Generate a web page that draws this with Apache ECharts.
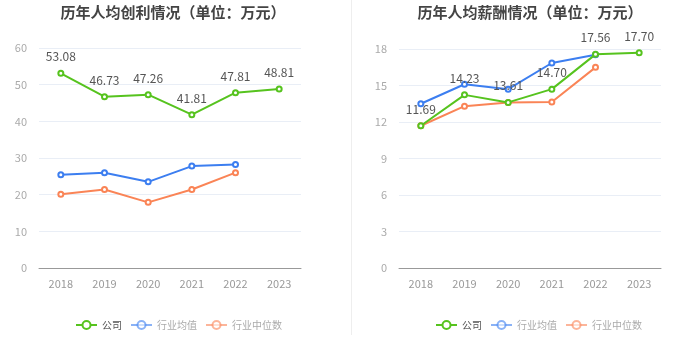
<!DOCTYPE html>
<html><head><meta charset="utf-8">
<script src="https://cdn.jsdelivr.net/npm/echarts@6/dist/echarts.min.js"></script>
<style>html,body{margin:0;padding:0;background:#fff}#c{width:700px;height:359px}</style>
</head><body><div id="c"></div>
<script>
const years = ['2018','2019','2020','2021','2022','2023'];
const seriesNames = ['公司','行业均值','行业中位数'];
const profitCompany = [53.08, 46.73, 47.26, 41.81, 47.81, 48.81];
const profitMean = [25.4, 26.0, 23.5, 27.8, 28.2, null];
const profitMedian = [20.1, 21.4, 17.9, 21.4, 26.0, null];
const salaryCompany = [11.69, 14.23, 13.61, 14.70, 17.56, 17.70];
const salaryMean = [13.5, 15.1, 14.7, 16.85, 17.53, null];
const salaryMedian = [11.69, 13.3, 13.6, 13.64, 16.49, null];
const titles = ['历年人均创利情况（单位：万元）','历年人均薪酬情况（单位：万元）'];

const colors = ['#56c31e','#3c7ef0','#fa8456'];
const font = '"Noto Sans CJK SC","Noto Sans",sans-serif';
const chart = echarts.init(document.getElementById('c'));

function mkSeries(name, data, xi, ci, label){
  return {
    name, type:'line', data, xAxisIndex:xi, yAxisIndex:xi,
    symbol:'emptyCircle', symbolSize:5, showAllSymbol:true,
    lineStyle:{width:2,color:colors[ci]}, itemStyle:{color:colors[ci], borderWidth:1.5},
    label: label ? {show:true, position:'top', distance:7, color:'#555', fontSize:12, fontFamily:font,
      formatter:p=>Number(p.value).toFixed(2)} : {show:false},
    z: label ? 3 : 2
  };
}
function legendData(){
  return seriesNames.map((n,i)=>({
    name:n,
    itemStyle: i===0?{}:{opacity:0.6},
    lineStyle: i===0?{}:{opacity:0.6},
    textStyle:{color: i===0?'#555':'#aaa'}
  }));
}
function yAxis(gi, max, interval){
  return {type:'value', gridIndex:gi, min:0, max, interval,
    axisLabel:{color:'#aaa', fontSize:11, fontFamily:font, margin:12},
    axisLine:{show:false}, axisTick:{show:false},
    splitLine:{lineStyle:{color:'#e9eef6'}}};
}
function xAxis(gi){
  return {type:'category', gridIndex:gi, data:years,
    axisLabel:{color:'#999', fontSize:11, fontFamily:font, margin:10},
    axisLine:{lineStyle:{color:'#999'}},
    axisTick:{alignWithLabel:true, length:4, lineStyle:{color:'#999'}}};
}
function legend(x){
  return {data:legendData(), left:x, top:315, itemWidth:21, itemHeight:10, itemGap:8,
    textStyle:{fontSize:10, fontFamily:font}, selectedMode:false};
}

chart.setOption({
  animation:false,
  title: titles.map((t,i)=>({text:t, left: i===0?168:525, textAlign:'center', top:0,
    textStyle:{fontSize:15, fontWeight:'bold', color:'#444', fontFamily:font}})),
  graphic:[{type:'line', shape:{x1:351.5,y1:0,x2:351.5,y2:335}, style:{stroke:'#eee', lineWidth:1}}],
  legend:[legend(70), legend(430)],
  grid:[
    {left:39, right:399, top:48, bottom:91},
    {left:399, right:39, top:49, bottom:91}
  ],
  xAxis:[xAxis(0), xAxis(1)],
  yAxis:[yAxis(0,60,10), yAxis(1,18,3)],
  series:[
    mkSeries('行业中位数', profitMedian, 0, 2, false),
    mkSeries('行业均值', profitMean, 0, 1, false),
    mkSeries('公司', profitCompany, 0, 0, true),
    mkSeries('行业中位数', salaryMedian, 1, 2, false),
    mkSeries('行业均值', salaryMean, 1, 1, false),
    mkSeries('公司', salaryCompany, 1, 0, true)
  ]
});
</script></body></html>
